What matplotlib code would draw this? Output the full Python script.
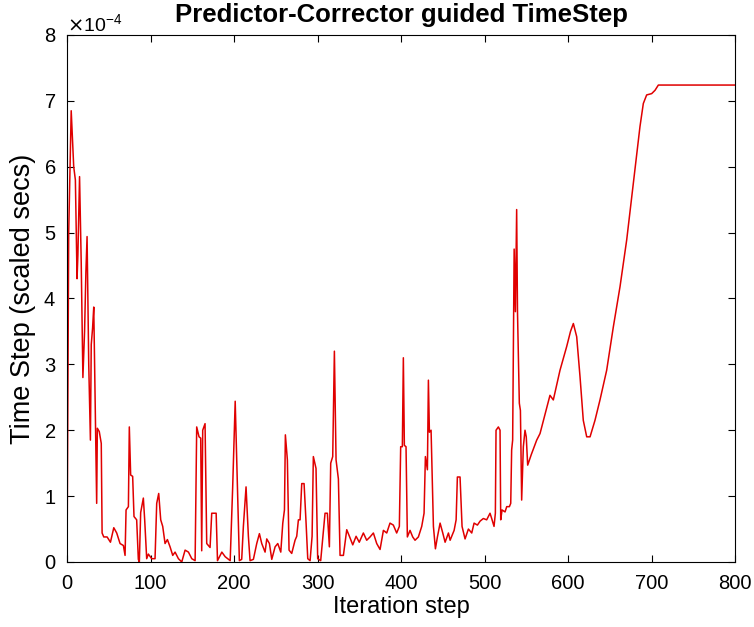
import numpy as np
import matplotlib.pyplot as plt
from matplotlib.ticker import ScalarFormatter

# iteration step and time step (in units of 1e-4 scaled secs)
it = [0, 2, 5, 8, 10, 12, 13, 15, 17, 19, 21, 22.6, 24, 26, 28, 29, 30.6, 32, 34, 35.5,
      36.3, 38.6, 41, 42, 44, 48, 52, 56, 59.5, 63.5, 67.5, 69.5, 70.7, 73.5, 74.6, 76.2,
      78.6, 80.2, 83.4, 85.4, 86.6, 88.2, 91.4, 93, 95.4, 97.4, 101.4, 105.4, 107.4, 109.8,
      112.2, 114.6, 117.4, 120.2, 123.4, 126.6, 129.4, 133.4, 137.4, 141.4, 145.4, 149.4,
      153.4, 155.3, 158.1, 160.1, 161.3, 162.5, 165.3, 167.3, 171.3, 173.3, 178.6, 180.2,
      185.4, 189.4, 195.4, 198.4, 201.4, 204, 206.4, 209.2, 211.2, 214.4, 217.2, 219.2,
      223.2, 227.2, 230.4, 233.2, 237.2, 239.2, 242.4, 245.2, 249.2, 252.4, 256, 258.4,
      260.4, 261.5, 263.9, 265.9, 269.1, 273.1, 275.1, 277.1, 279.1, 281.1, 283.9, 286.3,
      288.3, 291.1, 293.5, 295, 298.2, 300.2, 303.8, 309, 311.8, 314.2, 315.8, 318.2,
      320.2, 322.2, 325, 327, 331, 335, 338.2, 342.2, 346.2, 350, 354.9, 358.9, 362.9,
      366.9, 370.9, 374.9, 378.9, 382.9, 386.8, 390.8, 394.8, 398, 399.6, 401.6, 402.8,
      404, 406, 407.6, 410.8, 414, 416.8, 420.8, 424.8, 427.6, 429.2, 431.6, 432.8, 434,
      436, 438.8, 441.2, 443.6, 446.8, 450, 452.8, 456.8, 458.8, 463.6, 466, 467.5, 470.7,
      473.1, 476.7, 480.7, 484.7, 487.5, 491.5, 494.7, 498.6, 502.6, 506.6, 508.6, 511.4,
      513, 513.8, 516.6, 518.6, 519.4, 521, 524.6, 526.6, 529.8, 531.4, 532.5, 533.7,
      535.5, 537, 538.5, 539.5, 541.7, 543, 544.5, 546.5, 548.5, 550, 551.7, 556, 562.5,
      566.5, 572, 578.4, 582.4, 590.4, 598.4, 603, 606.4, 610.4, 614.4, 618.3, 622.4,
      626.4, 632.3, 638.3, 646.3, 654.3, 662.3, 670.3, 678.2, 686.2, 690.2, 694.2, 700.2,
      704.2, 708.2, 800]
dt = [0, 5.0, 6.85, 6.0, 5.8, 4.3, 4.66, 5.85, 4.54, 2.8, 3.5, 4.4, 4.94, 3.0, 1.85, 3.3,
      3.55, 3.87, 2.2, 0.89, 2.03, 1.98, 1.8, 0.44, 0.38, 0.38, 0.3, 0.52, 0.44, 0.28,
      0.25, 0.1, 0.79, 0.84, 2.05, 1.32, 1.3, 0.69, 0.64, 0.04, 0.0, 0.75, 0.97, 0.64,
      0.05, 0.12, 0.05, 0.05, 0.89, 1.04, 0.64, 0.54, 0.28, 0.34, 0.23, 0.1, 0.15, 0.05,
      0.0, 0.18, 0.15, 0.05, 0.02, 2.05, 1.9, 1.88, 0.17, 2.0, 2.1, 0.28, 0.22, 0.74, 0.74,
      0.02, 0.15, 0.08, 0.02, 1.14, 2.44, 1.2, 0.02, 0.04, 0.54, 1.14, 0.39, 0.02, 0.04,
      0.28, 0.43, 0.28, 0.15, 0.35, 0.28, 0.04, 0.23, 0.28, 0.15, 0.59, 0.79, 1.93, 1.55,
      0.18, 0.13, 0.33, 0.39, 0.64, 0.64, 1.19, 1.19, 0.59, 0.05, 0.02, 0.39, 1.6, 1.42,
      0.05, 0.02, 0.74, 0.74, 0.23, 1.5, 1.6, 3.2, 1.55, 1.26, 0.1, 0.1, 0.49, 0.39, 0.26,
      0.39, 0.3, 0.44, 0.33, 0.38, 0.44, 0.28, 0.19, 0.48, 0.44, 0.59, 0.56, 0.44, 0.54,
      1.75, 1.75, 3.1, 1.77, 1.75, 0.38, 0.48, 0.38, 0.33, 0.38, 0.54, 0.74, 1.6, 1.4,
      2.76, 1.97, 2.0, 0.54, 0.2, 0.38, 0.59, 0.44, 0.3, 0.44, 0.33, 0.48, 0.64, 1.29,
      1.29, 0.54, 0.35, 0.5, 0.44, 0.59, 0.56, 0.62, 0.66, 0.64, 0.74, 0.66, 0.54, 0.74,
      2.0, 2.05, 2.0, 0.64, 0.79, 0.76, 0.84, 0.84, 0.89, 1.7, 1.85, 4.75, 3.8, 5.35, 3.8,
      2.41, 2.3, 0.94, 1.75, 2.0, 1.9, 1.47, 1.63, 1.85, 1.95, 2.22, 2.53, 2.46, 2.91,
      3.27, 3.5, 3.62, 3.42, 2.81, 2.15, 1.9, 1.9, 2.15, 2.46, 2.91, 3.57, 4.18, 4.89,
      5.75, 6.61, 6.96, 7.09, 7.11, 7.16, 7.24, 7.24]

plt.rcParams["font.family"] = ["Liberation Sans", "DejaVu Sans"]

fig = plt.figure(figsize=(7.54, 6.27), dpi=100)
ax = fig.add_axes([0.0889, 0.1037, 0.8859, 0.8405])
ax.plot(it, np.array(dt) * 1e-4, color="#e00000", lw=1.1)

ax.set_xlim(0, 800)
ax.set_ylim(0, 8e-4)
ax.set_xticks(np.arange(0, 801, 100))
ax.set_yticks(np.arange(0, 8.01, 1) * 1e-4)
fmt = ScalarFormatter(useMathText=True)
fmt.set_powerlimits((-4, -4))
ax.yaxis.set_major_formatter(fmt)
ax.tick_params(direction="in", top=True, right=True, labelsize=14.5, length=5)
ax.tick_params(axis="x", pad=9)
ax.tick_params(axis="y", pad=8)
ax.yaxis.get_offset_text().set_fontsize(14)

ax.set_xlabel("Iteration step", fontsize=17, labelpad=2)
ax.set_ylabel("Time Step (scaled secs)", fontsize=19.5, labelpad=5)
ax.set_title("Predictor-Corrector guided TimeStep", fontsize=18.5, fontweight="bold", pad=9)

fig.savefig("out.png", dpi=100)
